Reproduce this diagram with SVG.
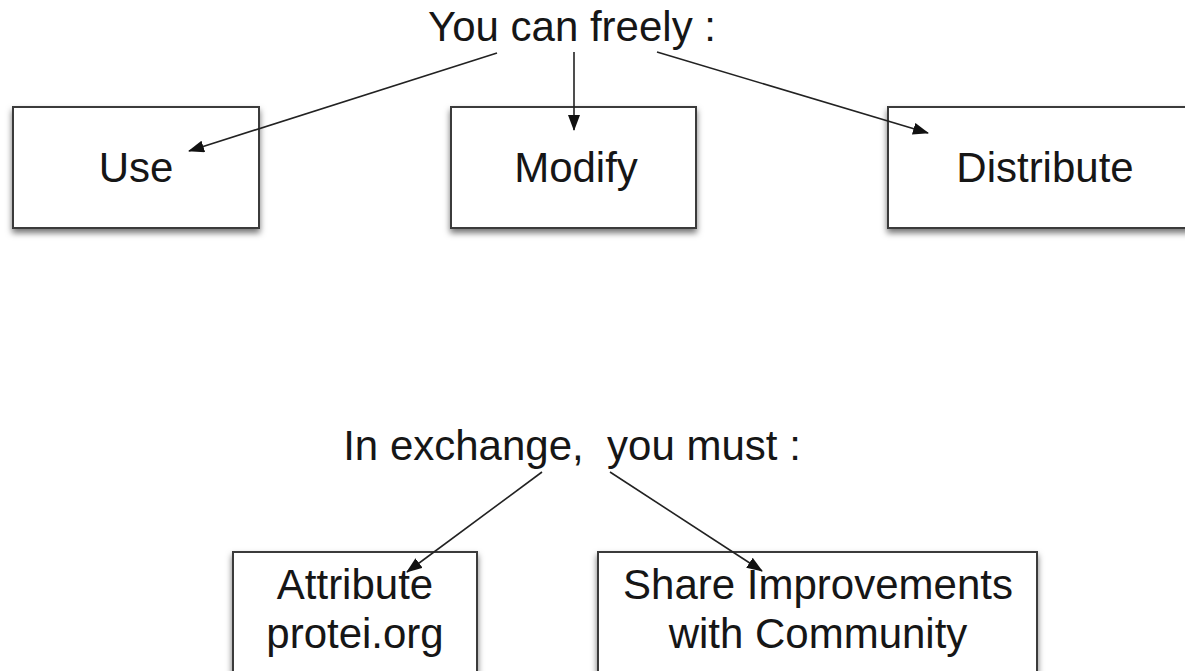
<svg xmlns="http://www.w3.org/2000/svg" width="1185" height="671" viewBox="0 0 1185 671">
<style>
  .box { fill: #ffffff; stroke: #3a3a3a; stroke-width: 2; }
  .lbl { font-family: "Liberation Sans", Arial, Helvetica, sans-serif; font-size: 42px; fill: #161616; text-anchor: middle; white-space: pre; }
  .conn { stroke: #222222; stroke-width: 1.6; fill: none; marker-end: url(#arrow); }
</style>
<defs>
  <filter id="shadow" x="-10%" y="-20%" width="120%" height="150%">
    <feDropShadow dx="0" dy="4" stdDeviation="3" flood-color="#000000" flood-opacity="0.55"/>
  </filter>
  <marker id="arrow" markerWidth="16" markerHeight="12" refX="15" refY="6" orient="auto" markerUnits="userSpaceOnUse">
    <path d="M0,0 L16,6 L0,12 Z" fill="#111111"/>
  </marker>
</defs>
<rect width="1185" height="671" fill="#ffffff"/>

<g id="title-top">
  <text class="lbl" x="572" y="41">You can freely :</text>
</g>
<g id="node-use">
  <rect class="box" x="13" y="107" width="246" height="121" filter="url(#shadow)"/>
  <text class="lbl" x="136" y="182">Use</text>
</g>
<g id="node-modify">
  <rect class="box" x="451" y="107" width="245" height="121" filter="url(#shadow)"/>
  <text class="lbl" x="576" y="182">Modify</text>
</g>
<g id="node-distribute">
  <rect class="box" x="888" y="107" width="310" height="121" filter="url(#shadow)"/>
  <text class="lbl" x="1045" y="182">Distribute</text>
</g>

<g id="title-bottom">
  <text class="lbl" x="572" y="460">In exchange,  you must :</text>
</g>
<g id="node-attribute">
  <rect class="box" x="233" y="552" width="244" height="140" filter="url(#shadow)"/>
  <text class="lbl" x="355" y="599">Attribute</text>
  <text class="lbl" x="355" y="648">protei.org</text>
</g>
<g id="node-share">
  <rect class="box" x="598" y="552" width="439" height="140" filter="url(#shadow)"/>
  <text class="lbl" x="818" y="599">Share Improvements</text>
  <text class="lbl" x="818" y="648">with Community</text>
</g>

<g id="connectors">
  <line class="conn" x1="497" y1="53" x2="189" y2="151"/>
  <line class="conn" x1="574" y1="52" x2="574" y2="130"/>
  <line class="conn" x1="657" y1="52" x2="928" y2="133"/>
  <line class="conn" x1="542" y1="472" x2="407" y2="572"/>
  <line class="conn" x1="610" y1="472" x2="762" y2="571"/>
</g>
</svg>
